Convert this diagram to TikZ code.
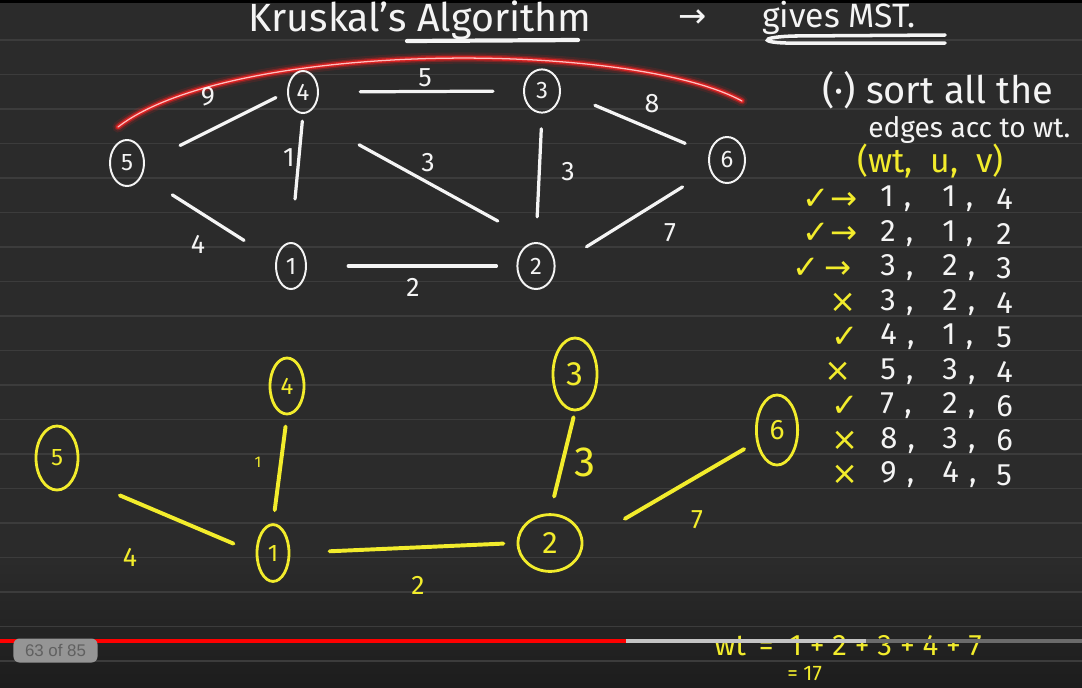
\documentclass[tikz,border=0pt]{standalone}
\usepackage{fontspec}
\setmainfont{Fira Sans}
\newfontfamily\symfont{DejaVu Sans}
\newfontfamily\uifont{Liberation Sans}
\usetikzlibrary{shapes.geometric}

\definecolor{board}{HTML}{2B2B2B}
\definecolor{boarddark}{HTML}{1D1D1D}
\definecolor{ruling}{HTML}{3C3C3C}
\definecolor{chalk}{HTML}{F4F4F4}
\definecolor{marker}{HTML}{F2EC2C}
\definecolor{glow}{HTML}{FF2020}

\begin{document}
\begin{tikzpicture}[x=0.025cm, y=-0.025cm,
    vtx/.style={draw=chalk, line width=1.4pt, ellipse, minimum width=0.85cm,
        minimum height=1.15cm, inner sep=0pt, text=chalk, font=\fontsize{17}{17}\selectfont},
    yvtx/.style={vtx, draw=marker, line width=2pt, text=marker},
    chalkline/.style={draw=chalk, line width=2.3pt, line cap=round},
    markline/.style={draw=marker, line width=2.8pt, line cap=round},
    wnum/.style={text=chalk, inner sep=0pt, font=\fontsize{19}{19}\selectfont},
    ynum/.style={wnum, text=marker},
    note/.style={text=chalk, inner sep=0pt, font=\fontsize{22}{24}\selectfont}]

    % Board and ruling
    \useasboundingbox (0,0) rectangle (1082,687);
    \clip (0,0) rectangle (1082,687);
    \fill[board] (0,0) rectangle (1082,687);
    \shade[top color=board, bottom color=boarddark] (0,560) rectangle (1082,687);
    \fill[black] (0,0) rectangle (1082,3);
    \foreach \y in {40,74.5,...,662} \draw[ruling, line width=0.8pt] (0,\y) -- (1082,\y);

    % Heading
    \node[note, anchor=base, font=\fontsize{28}{30}\selectfont] (title) at (420,31) {Kruskal's Algorithm};
    \draw[chalkline, line width=3pt] (407,41) -- (578,40);
    \node[wnum, font=\symfont\fontsize{24}{24}\selectfont] (goalarrow) at (693,19) {→};
    \node[note, anchor=base west, font=\fontsize{24}{24}\selectfont] (goal) at (762,27) {gives MST.};
    \draw[chalkline, line width=2.5pt] (945,35) -- (795,36) .. controls (755,37) and (760,44) .. (800,43) -- (945,43);

    % Red arc over the top edges
    \foreach \lw/\op in {8/0.12,5/0.3,3/0.7}
        \draw[glow, line width=\lw pt, opacity=\op, line cap=round] (118,127) .. controls (230,40) and (630,40) .. (742,101);
    \draw[red!25!white, line width=0.9pt, line cap=round] (118,127) .. controls (230,40) and (630,40) .. (742,101);

    % Given graph
    \node[vtx] (n5) at (127,163) {5};
    \node[vtx, minimum width=0.75cm, minimum height=1.05cm] (n4) at (303,92) {4};
    \node[vtx, minimum width=0.9cm, minimum height=1.08cm] (n3) at (542,91) {3};
    \node[vtx, minimum width=0.9cm] (n6) at (727,160) {6};
    \node[vtx, minimum width=0.75cm] (n1) at (291,266) {1};
    \node[vtx, minimum width=0.93cm] (n2) at (536,266) {2};

    \draw[chalkline, shorten <=0.98cm, shorten >=0.31cm] (n5.east) -- (n4.west);
    \draw[chalkline, shorten <=1.03cm, shorten >=0.75cm] (n4.east) -- (n3.west);
    \draw[chalkline, shorten <=0.92cm, shorten >=0.64cm] (n3.east) -- (n6.160);
    \draw[chalkline, shorten <=0.89cm, shorten >=0.93cm] (n5.-40) -- (n1.160);
    \draw[chalkline, shorten <=0.18cm, shorten >=1.08cm] (n4.south) -- (n1.north);
    \draw[chalkline, shorten <=1.6cm, shorten >=1.09cm] (n4.south) -- (n2.north);
    \draw[chalkline, shorten <=0.38cm, shorten >=0.63cm] (n3.south) -- (n2.north);
    \draw[chalkline, shorten <=0.91cm, shorten >=0.8cm] (n2.east) -- (n6.-150);
    \draw[chalkline, shorten <=1.03cm, shorten >=0.5cm] (n1.east) -- (n2.west);

    \node[wnum] (w54) at (208,97) {9};
    \node[wnum] (w43) at (425,78) {5};
    \node[wnum] (w36) at (652,104) {8};
    \node[wnum] (w51) at (198,244) {4};
    \node[wnum] (w41) at (289,158) {1};
    \node[wnum] (w42) at (428,163) {3};
    \node[wnum] (w32) at (568,172) {3};
    \node[wnum] (w26) at (670,233) {7};
    \node[wnum] (w12) at (413,287) {2};

    % Spanning tree
    \node[yvtx, minimum width=1.05cm, minimum height=1.6cm] (m5) at (57,458) {5};
    \node[yvtx, minimum width=0.85cm, minimum height=1.4cm] (m4) at (287,386) {4};
    \node[yvtx, minimum width=0.8cm, minimum height=1.42cm] (m1) at (273,553) {1};
    \node[yvtx, minimum width=1.1cm, minimum height=1.8cm, font=\fontsize{24}{24}\selectfont] (m3) at (575,374) {3};
    \node[yvtx, minimum width=1.6cm, minimum height=1.42cm, font=\fontsize{22}{22}\selectfont] (m2) at (550,543) {2};
    \node[yvtx, minimum width=1.03cm, minimum height=1.75cm, font=\fontsize{20}{20}\selectfont] (m6) at (777,430) {6};

    \draw[markline, shorten <=0.28cm, shorten >=0.33cm] (m4.south) -- (m1.north);
    \draw[markline, shorten <=1.2cm, shorten >=0.6cm] (m5.-45) -- (m1.west);
    \draw[markline, shorten <=0.98cm, shorten >=0.33cm] (m1.east) -- (m2.west);
    \draw[markline, shorten <=0.15cm, shorten >=0.43cm] (m3.south) -- (m2.north);
    \draw[markline, shorten <=1.2cm, shorten >=0.35cm] (m2.east) -- (m6.-150);

    \node[ynum, font=\fontsize{11}{11}\selectfont] (t41) at (258,462) {1};
    \node[ynum] (t51) at (130,557) {4};
    \node[ynum] (t12) at (418,585) {2};
    \node[ynum, font=\fontsize{30}{30}\selectfont] (t32) at (585,462) {3};
    \node[ynum] (t26) at (697,520) {7};

    % Sorted edge list
    \node[note, anchor=base west, font=\fontsize{27}{28}\selectfont] (step) at (822,103) {(·) sort all the};
    \node[note, anchor=base west, font=\fontsize{20}{22}\selectfont] (stepb) at (868,137) {edges acc to wt.};
    \node[note, anchor=base west, text=marker, font=\fontsize{24}{26}\selectfont] (cols) at (857,172) {(wt,\ \ u,\ \ v)};
    \foreach \w/\u/\v/\s/\sx [count=\i] in {1/1/4/✓→/830, 2/1/2/✓→/830, 3/2/3/✓\,→/822,
        3/2/4/×/843, 4/1/5/✓/845, 5/3/4/×/838, 7/2/6/✓/845, 8/3/6/×/845, 9/4/5/×/845} {
        \pgfmathsetmacro{\ry}{199+34.5*(\i-1)}
        \node[ynum, font=\symfont\fontsize{23}{23}\selectfont] (mark\i) at (\sx,\ry) {\s};
        \node[note, anchor=west] (wt\i) at (880,\ry) {\w\,\,,};
        \node[note, anchor=west] (u\i) at (942,\ry) {\u\,\,,};
        \node[note, anchor=west] (v\i) at (996,\ry) {\v};
    }

    % Total weight
    \node[note, anchor=base west, text=marker, font=\fontsize{21}{23}\selectfont] (total) at (714,655) {wt\, = \ 1 + 2 + 3 + 4 + 7};
    \node[note, anchor=base west, text=marker, font=\fontsize{15}{15}\selectfont] (totalb) at (787,680) {= 17};

    % Player overlay
    \fill[red] (0,638.5) rectangle (626,642.5);
    \fill[white!72!board] (626,638.5) rectangle (866,642.5);
    \fill[white!30!board] (866,638.5) rectangle (1082,642.5);
    \node[fill=white!50!board, rounded corners=0.15cm, minimum width=2.1cm, minimum height=0.6cm,
        inner sep=0pt, text=white!25!board, font=\uifont\fontsize{12}{12}\selectfont] (counter) at (55.5,650.5) {63 of 85};
\end{tikzpicture}
\end{document}
